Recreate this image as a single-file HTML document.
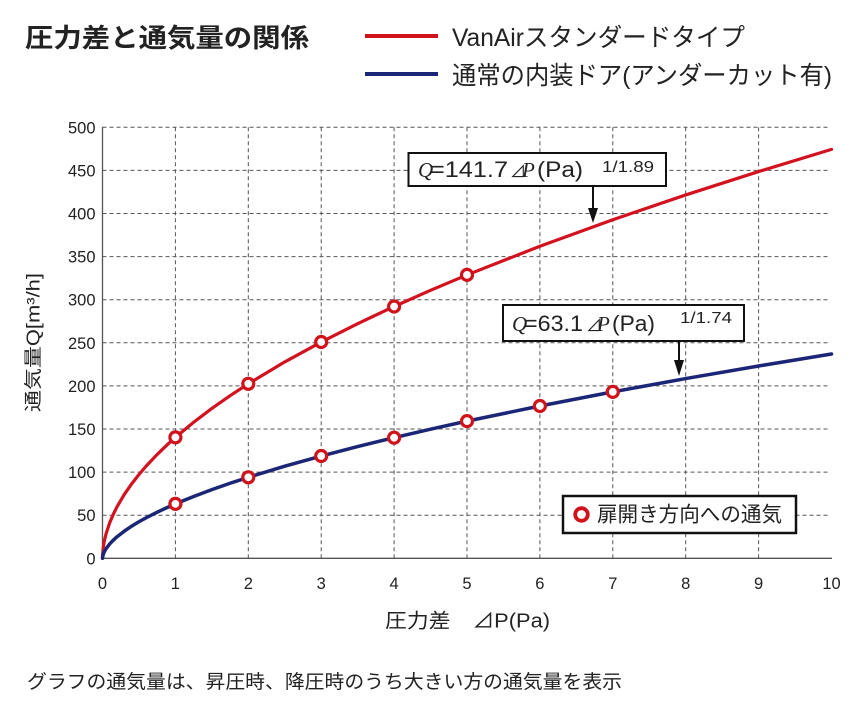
<!DOCTYPE html>
<html><head><meta charset="utf-8">
<style>
html,body{margin:0;padding:0;background:#fff;}
svg{display:block;}
text{font-family:"Liberation Sans","Noto Sans CJK JP",sans-serif;fill:#222;}
.cjk{font-family:"Liberation Sans","Noto Sans CJK JP",sans-serif;}
.it{font-family:"Liberation Serif","DejaVu Serif",serif;font-style:italic;}
</style></head><body>
<svg width="863" height="701" viewBox="0 0 863 701" xmlns="http://www.w3.org/2000/svg">
<rect width="863" height="701" fill="#fff"/>

<!-- Title -->
<text x="25" y="47" font-size="26" font-weight="bold" textLength="284" lengthAdjust="spacingAndGlyphs">圧力差と通気量の関係</text>

<!-- Legend -->
<line x1="365" y1="36" x2="438" y2="36" stroke="#d0121b" stroke-width="4"/>
<text x="452" y="46" font-size="25" textLength="293" lengthAdjust="spacingAndGlyphs">VanAirスタンダードタイプ</text>
<line x1="365" y1="74" x2="438" y2="74" stroke="#1c2677" stroke-width="4"/>
<text x="452" y="84" font-size="25" textLength="380" lengthAdjust="spacingAndGlyphs">通常の内装ドア(アンダーカット有)</text>

<!-- Grid -->
<g stroke="#555" stroke-width="1" stroke-dasharray="4 3" fill="none">
<line x1="102.5" y1="515.2" x2="830" y2="515.2"/>
<line x1="102.5" y1="472.1" x2="830" y2="472.1"/>
<line x1="102.5" y1="429.0" x2="830" y2="429.0"/>
<line x1="102.5" y1="385.9" x2="830" y2="385.9"/>
<line x1="102.5" y1="342.8" x2="830" y2="342.8"/>
<line x1="102.5" y1="299.7" x2="830" y2="299.7"/>
<line x1="102.5" y1="256.6" x2="830" y2="256.6"/>
<line x1="102.5" y1="213.5" x2="830" y2="213.5"/>
<line x1="102.5" y1="170.4" x2="830" y2="170.4"/>
<line x1="102.5" y1="127.3" x2="830" y2="127.3"/>
<line x1="175.4" y1="127.3" x2="175.4" y2="558.3"/>
<line x1="248.3" y1="127.3" x2="248.3" y2="558.3"/>
<line x1="321.2" y1="127.3" x2="321.2" y2="558.3"/>
<line x1="394.1" y1="127.3" x2="394.1" y2="558.3"/>
<line x1="467.0" y1="127.3" x2="467.0" y2="558.3"/>
<line x1="539.9" y1="127.3" x2="539.9" y2="558.3"/>
<line x1="612.8" y1="127.3" x2="612.8" y2="558.3"/>
<line x1="685.7" y1="127.3" x2="685.7" y2="558.3"/>
<line x1="758.6" y1="127.3" x2="758.6" y2="558.3"/>
</g>

<!-- Axes -->
<line x1="102.5" y1="127" x2="102.5" y2="558.3" stroke="#555" stroke-width="1.3"/>
<line x1="102.5" y1="558.3" x2="832" y2="558.3" stroke="#555" stroke-width="1.3"/>

<!-- Y tick labels -->
<g font-size="16.5" text-anchor="end">
<text x="95.5" y="564.3">0</text>
<text x="95.5" y="521.2">50</text>
<text x="95.5" y="478.1">100</text>
<text x="95.5" y="435.0">150</text>
<text x="95.5" y="391.9">200</text>
<text x="95.5" y="348.8">250</text>
<text x="95.5" y="305.7">300</text>
<text x="95.5" y="262.6">350</text>
<text x="95.5" y="219.5">400</text>
<text x="95.5" y="176.4">450</text>
<text x="95.5" y="133.3">500</text>
</g>

<!-- X tick labels -->
<g font-size="16.5" text-anchor="middle">
<text x="102.5" y="589">0</text>
<text x="175.4" y="589">1</text>
<text x="248.3" y="589">2</text>
<text x="321.2" y="589">3</text>
<text x="394.1" y="589">4</text>
<text x="467.0" y="589">5</text>
<text x="539.9" y="589">6</text>
<text x="612.8" y="589">7</text>
<text x="685.7" y="589">8</text>
<text x="758.6" y="589">9</text>
<text x="831.5" y="589">10</text>
</g>

<!-- Axis titles -->
<text transform="translate(39.5,342.5) rotate(-90)" text-anchor="middle" font-size="18" textLength="139" lengthAdjust="spacingAndGlyphs">通気量Q[m³/h]</text>
<text x="385" y="627.5" font-size="20" textLength="165" lengthAdjust="spacingAndGlyphs">圧力差　⊿P(Pa)</text>

<!-- Curves -->
<polyline fill="none" stroke="#d2131f" stroke-width="3.2" stroke-linejoin="round" stroke-linecap="round"
points="102.5,558.3 102.57,555.17 103.23,547.73 103.96,543.04 104.69,539.38 106.15,533.52 109.79,522.54 113.44,513.98 117.08,506.70 124.37,494.34 131.66,483.83 138.95,474.50 146.24,466.01 157.18,454.45 168.11,443.93 175.4,437.38 193.63,422.22 211.85,408.44 230.08,395.71 248.3,383.79 284.75,361.93 321.2,342.04 357.65,323.67 394.1,306.49 430.55,290.30 467.0,274.93 539.9,246.25 612.8,219.72 685.7,194.94 758.6,171.57 831.5,149.39"/>
<polyline fill="none" stroke="#1c2677" stroke-width="3.5" stroke-linejoin="round" stroke-linecap="round"
points="102.5,558.3 102.57,557.27 103.23,554.45 103.96,552.56 104.69,551.05 106.15,548.58 109.79,543.82 113.44,540.02 117.08,536.73 124.37,531.07 131.66,526.17 138.95,521.78 146.24,517.75 157.18,512.20 168.11,507.10 175.4,503.91 193.63,496.47 211.85,489.63 230.08,483.27 248.3,477.29 284.75,466.20 321.2,456.03 357.65,446.56 394.1,437.65 430.55,429.20 467.0,421.13 539.9,405.98 612.8,391.87 685.7,378.59 758.6,366.01 831.5,354.00"/>

<!-- Markers -->
<g fill="#fff" stroke="#d0121b" stroke-width="3.2">
<circle cx="175.4" cy="437.4" r="5.5"/>
<circle cx="248.3" cy="383.8" r="5.5"/>
<circle cx="321.2" cy="342.0" r="5.5"/>
<circle cx="394.1" cy="306.5" r="5.5"/>
<circle cx="467.0" cy="274.9" r="5.5"/>
<circle cx="175.4" cy="503.9" r="5.5"/>
<circle cx="248.3" cy="477.3" r="5.5"/>
<circle cx="321.2" cy="456.0" r="5.5"/>
<circle cx="394.1" cy="437.7" r="5.5"/>
<circle cx="467.0" cy="421.1" r="5.5"/>
<circle cx="539.9" cy="406.0" r="5.5"/>
<circle cx="612.8" cy="391.9" r="5.5"/>
</g>

<!-- Annotation 1 -->
<rect x="408.5" y="153" width="257.5" height="33" fill="#fff" stroke="#111" stroke-width="2"/>
<text class="it" x="418" y="177" font-size="21">Q</text>
<text x="430" y="177" font-size="22" textLength="78" lengthAdjust="spacingAndGlyphs">=141.7</text>
<text class="cjk" x="510" y="177" font-size="16">⊿</text>
<text class="it" x="522" y="177" font-size="21">P</text>
<text x="537" y="177" font-size="22" textLength="46" lengthAdjust="spacingAndGlyphs">(Pa)</text>
<text x="602" y="172" font-size="16" textLength="52" lengthAdjust="spacingAndGlyphs">1/1.89</text>
<line x1="593" y1="186" x2="593" y2="210" stroke="#111" stroke-width="2"/>
<polygon points="588,208 598,208 593,223" fill="#111"/>

<!-- Annotation 2 -->
<rect x="503" y="305" width="241" height="36" fill="#fff" stroke="#111" stroke-width="2"/>
<text class="it" x="512" y="331" font-size="21">Q</text>
<text x="524" y="331" font-size="22" textLength="59" lengthAdjust="spacingAndGlyphs">=63.1</text>
<text class="cjk" x="586" y="331" font-size="16">⊿</text>
<text class="it" x="597" y="331" font-size="21">P</text>
<text x="612" y="331" font-size="22" textLength="43" lengthAdjust="spacingAndGlyphs">(Pa)</text>
<text x="680" y="323" font-size="16" textLength="52" lengthAdjust="spacingAndGlyphs">1/1.74</text>
<line x1="679" y1="341" x2="679" y2="362" stroke="#111" stroke-width="2"/>
<polygon points="674,360 684,360 679,376" fill="#111"/>

<!-- In-plot legend -->
<rect x="563" y="496" width="233" height="37" fill="#fff" stroke="#111" stroke-width="2.5"/>
<circle cx="581.5" cy="514.5" r="6.3" fill="#fff" stroke="#d0121b" stroke-width="3.8"/>
<text x="597" y="521.5" font-size="21" textLength="185" lengthAdjust="spacingAndGlyphs">扉開き方向への通気</text>

<!-- Footnote -->
<text x="27" y="688" font-size="19" textLength="595" lengthAdjust="spacingAndGlyphs">グラフの通気量は、昇圧時、降圧時のうち大きい方の通気量を表示</text>
</svg>
</body></html>
